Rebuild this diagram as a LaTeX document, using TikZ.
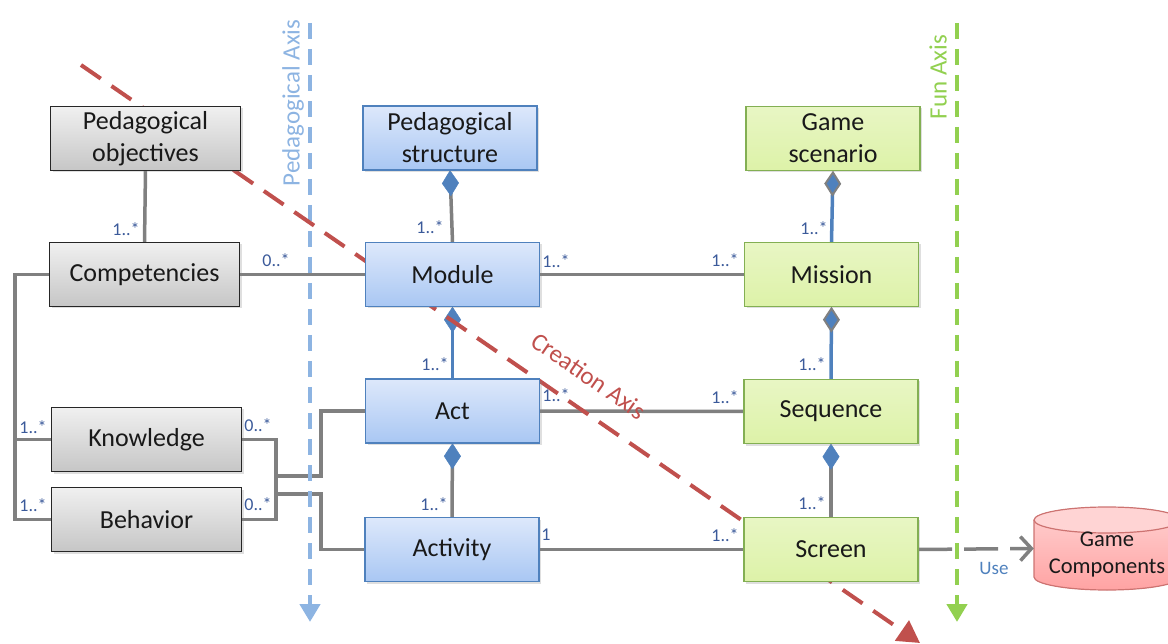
\documentclass[tikz,border=0pt]{standalone}
\usepackage{fontspec}
\setmainfont{Carlito}
\usetikzlibrary{arrows.meta,shadows}
\definecolor{cgray}{HTML}{808080}
\definecolor{cblue}{HTML}{4F81BD}
\definecolor{lblue}{HTML}{8DB4E2}
\definecolor{cgreen}{HTML}{92D050}
\definecolor{cred}{HTML}{C0504D}
\definecolor{lbl}{HTML}{3B5A9A}
\definecolor{btop}{HTML}{DDE8FB}
\definecolor{bbot}{HTML}{A9C7F3}
\definecolor{gtop}{HTML}{E8F6C4}
\definecolor{gbot}{HTML}{DDF2A8}
\definecolor{ktop}{HTML}{F0F0F0}
\definecolor{kbot}{HTML}{C6C6C6}
\tikzset{
  box/.style={minimum width=174pt, minimum height=64pt, inner sep=0pt, align=center,
    font=\fontsize{26}{32}\selectfont, text=black!90,
    drop shadow={opacity=0.25, shadow xshift=2pt, shadow yshift=-2pt}},
  graybox/.style={box, minimum width=190pt, draw=black!85, line width=1.3pt, top color=ktop, bottom color=kbot},
  bluebox/.style={box, draw=cblue, line width=1.3pt, top color=btop, bottom color=bbot},
  greenbox/.style={box, draw=cgreen!80!black!90, line width=1.2pt, top color=gtop, bottom color=gbot},
  conn/.style={draw=cgray, line width=3.5pt},
  bconn/.style={draw=cblue, line width=3.5pt},
  mult/.style={font=\fontsize{18}{20}\selectfont, text=lbl, inner sep=0pt},
  axislabel/.style={font=\fontsize{25}{28}\selectfont, inner sep=0pt},
  bdiam/.style={-{Diamond[length=26pt,width=17pt,fill=cblue,color=cblue,line width=0.5pt]}},
  gdiam/.style={-{Diamond[length=26pt,width=17pt,fill=cblue,color=cgray,line width=2pt]}},
}
\begin{document}
\begin{tikzpicture}[x=1pt,y=-1pt]
\useasboundingbox (0,0) rectangle (1168,644);
\clip (0,0) rectangle (1168,644);

\path
  (145.5,138.5) coordinate (c-pobj)
  (144.5,274.5) coordinate (c-comp)
  (146.5,439.5) coordinate (c-know)
  (146.5,519.5) coordinate (c-behav)
  (450,138) coordinate (c-pstruct)
  (452.5,274.5) coordinate (c-module)
  (452.5,411) coordinate (c-act)
  (452,549.5) coordinate (c-activity)
  (833,138.5) coordinate (c-gscen)
  (831.5,274.5) coordinate (c-mission)
  (831,411.5) coordinate (c-seq)
  (831,549.5) coordinate (c-screen);

% anchor nodes for connectors
\begin{scope}[every node/.style={minimum width=174pt, minimum height=64pt, inner sep=0pt}]
\node (pobj) [minimum width=190pt] at (c-pobj) {};
\node (comp) [minimum width=190pt] at (c-comp) {};
\node (know) [minimum width=190pt] at (c-know) {};
\node (behav) [minimum width=190pt] at (c-behav) {};
\node (pstruct) at (c-pstruct) {};
\node (module) at (c-module) {};
\node (act) at (c-act) {};
\node (activity) at (c-activity) {};
\node (gscen) at (c-gscen) {};
\node (mission) at (c-mission) {};
\node (seq) at (c-seq) {};
\node (screen) at (c-screen) {};
\node (gc) [minimum width=146pt, minimum height=83pt] at (1107,548.5) {};
\end{scope}

% Game Components cylinder
\fill[top color=red!18, bottom color=red!36] (1034,520) -- (1034,577)
   arc[start angle=180,end angle=360,x radius=73pt,y radius=13pt] -- (1180,520)
   arc[start angle=0,end angle=180,x radius=73pt,y radius=13pt] -- cycle;
\draw[cred!80, line width=1.2pt] (1034,520) -- (1034,577)
   arc[start angle=180,end angle=360,x radius=73pt,y radius=13pt] -- (1180,520);
\draw[cred!80, line width=1.2pt, fill=red!17] (1107,520) ellipse[x radius=73pt, y radius=13pt];
\node[font=\fontsize{22.5}{27}\selectfont, align=center, text=black!90] (gctext) at (1107,555) {Game\\Components};

% connectors
\coordinate (lbus) at (15,0);
\coordinate (rbus) at (276,0);
\coordinate (j1) at (276,476);
\coordinate (j2) at (276,494);
\coordinate (k1) at (321,476);
\coordinate (k2) at (321,494);
\draw[conn] (pobj.south) -- (comp.north);
\draw[conn] (comp.east) -- (module.west);
\draw[conn] (module.east) -- (mission.west);
\draw[conn] (act.east) -- (seq.west);
\draw[conn] (activity.east) -- (screen.west);
\draw[conn] (comp.west) -- (comp.west -| lbus) -- (behav.west -| lbus) -- (behav.west);
\draw[conn] (know.west) -- (know.west -| lbus);
\draw[conn] (know.east) -- (know.east -| rbus) -- (behav.east -| rbus) -- (behav.east);
\draw[conn] (j1) -- (k1) |- (act.west);
\draw[conn] (j2) -- (k2) |- (activity.west);
\draw[conn, bdiam] (module.north) -- (pstruct.south);
\draw[bconn, bdiam] (act.north) -- (module.south);
\draw[conn, bdiam] (activity.north) -- (act.south);
\draw[bconn, gdiam] (mission.north) -- (gscen.south);
\draw[bconn, gdiam] (seq.north) -- (mission.south);
\draw[conn, bdiam] (screen.north) -- (seq.south);
\draw[draw=cgray, line width=3.5pt, dash pattern=on 34pt off 12pt, -{Straight Barb[length=11pt,width=24pt,line width=3.5pt]}] (screen.east) -- (gc.west);

% axes
\coordinate (pa1) at (310,23);
\coordinate (pa2) at (310,622);
\coordinate (fa1) at (957,23);
\coordinate (fa2) at (957,622);
\coordinate (ca1) at (81,65);
\coordinate (ca2) at (920,643);
\draw[lblue, line width=4.5pt, dash pattern=on 16pt off 10pt, -{Triangle[length=18pt,width=20pt]}] (pa1) -- (pa2);
\draw[cgreen, line width=4.5pt, dash pattern=on 16pt off 10pt, -{Triangle[length=18pt,width=20pt]}] (fa1) -- (fa2);
\draw[cred, line width=4pt, dash pattern=on 24pt off 13pt, -{Triangle[length=22pt,width=24pt]}] (ca1) -- (ca2);
\node[axislabel, text=lblue, rotate=90] (palabel) at (293,103) {Pedagogical Axis};
\node[axislabel, text=cgreen, rotate=90] (falabel) at (938,77) {Fun Axis};
\node[axislabel, text=cred, rotate=-34.6] (calabel) at (589,376) {Creation Axis};

% boxes drawn on top
\node[graybox] at (c-pobj) {Pedagogical\\objectives};
\node[graybox] at (c-comp) {Competencies};
\node[graybox] at (c-know) {Knowledge};
\node[graybox] at (c-behav) {Behavior};
\node[bluebox] at (c-pstruct) {Pedagogical\\structure};
\node[bluebox] at (c-module) {Module};
\node[bluebox] at (c-act) {Act};
\node[bluebox] at (c-activity) {Activity};
\node[greenbox] at (c-gscen) {Game\\scenario};
\node[greenbox] at (c-mission) {Mission};
\node[greenbox] at (c-seq) {Sequence};
\node[greenbox] at (c-screen) {Screen};

% multiplicities
\node[mult] (m1) at (126,229) {1..*};
\node[mult] (m2) at (276,260) {0..*};
\node[mult] (m3) at (556,261) {1..*};
\node[mult] (m4) at (725,260) {1..*};
\node[mult] (m5) at (430,227) {1..*};
\node[mult] (m6) at (435,364) {1..*};
\node[mult] (m7) at (556,395) {1..*};
\node[mult] (m8) at (725,397) {1..*};
\node[mult] (m9) at (812,364) {1..*};
\node[mult] (m10) at (814,228) {1..*};
\node[mult] (m11) at (812,503) {1..*};
\node[mult] (m12) at (725,535) {1..*};
\node[mult] (m13) at (546,535) {1};
\node[mult] (m14) at (434,504) {1..*};
\node[mult] (m15) at (33,427) {1..*};
\node[mult] (m16) at (33,505) {1..*};
\node[mult] (m17) at (258,425) {0..*};
\node[mult] (m18) at (258,504) {0..*};
\node[font=\fontsize{19}{22}\selectfont, text=cblue, inner sep=0pt] (use) at (994,568) {Use};
\end{tikzpicture}
\end{document}
